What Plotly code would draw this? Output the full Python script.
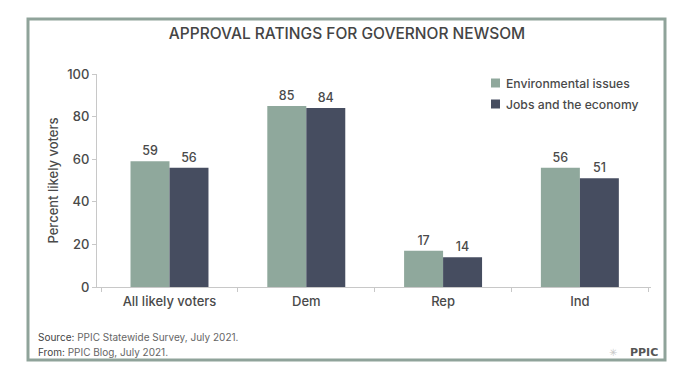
import plotly.graph_objects as go

categories = ["All likely voters", "Dem", "Rep", "Ind"]
env_values = [59, 85, 17, 56]
jobs_values = [56, 84, 14, 51]
series_names = ["Environmental issues", "Jobs and the economy"]
y_ticks = [0, 20, 40, 60, 80, 100]

OFF = 8  # browser body margin
W, H = 688 - OFF, 377 - OFF
FONT = "Inter, 'Open Sans', sans-serif"
TXT = "#4a4a4a"
env_color = "#8fa89c"
jobs_color = "#464d60"
frame_color = "#8fa39a"

x0, x1 = 97 - OFF, 651 - OFF
y_top, y_bot = 74 - OFF, 287 - OFF


def px(x):
    return (x - OFF - x0) / (x1 - x0)


def py(y):
    return (y_bot - (y - OFF)) / (y_bot - y_top)


fig = go.Figure()
for name, vals, col in [(series_names[0], env_values, env_color), (series_names[1], jobs_values, jobs_color)]:
    fig.add_trace(go.Bar(
        x=categories, y=vals, name=name, marker=dict(color=col, line=dict(width=0)),
        text=[str(v) for v in vals], textposition="outside",
        textfont=dict(family=FONT, size=12.5, color=TXT, weight=500), cliponaxis=False,
        showlegend=False,
    ))

fig.update_layout(
    width=W, height=H,
    margin=dict(l=x0, r=W - x1, t=y_top, b=H - y_bot),
    paper_bgcolor="white", plot_bgcolor="white",
    barmode="group", bargap=0.43, bargroupgap=0,
    title=dict(text="APPROVAL RATINGS FOR GOVERNOR NEWSOM", x=px(347), xanchor="center",
               xref="paper", y=1 - (34 - OFF) / H, yanchor="middle",
               font=dict(family=FONT, size=15.5, color="#444444", weight=500)),
    font=dict(family=FONT, color=TXT),
)
fig.update_xaxes(range=[-0.53, 3.52], showline=True, linecolor="#c8c8c8", linewidth=1,
                 ticks="outside", tickson="boundaries", ticklen=4, tickcolor="#c8c8c8",
                 showgrid=False, tickfont=dict(family=FONT, size=13, color=TXT, weight=500),
                 ticklabelstandoff=2)
fig.update_yaxes(range=[0, 100], tickvals=y_ticks, showline=True, linecolor="#c8c8c8",
                 linewidth=1, ticks="outside", ticklen=4, tickcolor="#c8c8c8",
                 showgrid=False, zeroline=False,
                 tickfont=dict(family=FONT, size=13, color=TXT, weight=500),
                 title=dict(text="Percent likely voters",
                            font=dict(family=FONT, size=13, color=TXT, weight=500), standoff=5))

# frame
fig.add_shape(type="rect", xref="paper", yref="paper",
              x0=px(28), x1=px(665), y0=py(360), y1=py(19),
              line=dict(color=frame_color, width=3), fillcolor="rgba(0,0,0,0)", layer="below")

# legend (manual)
for i, (name, col) in enumerate([(series_names[0], env_color), (series_names[1], jobs_color)]):
    yc = 83 + 21 * i
    fig.add_shape(type="rect", xref="paper", yref="paper",
                  x0=px(491), x1=px(500), y0=py(yc + 4.5), y1=py(yc - 4.5),
                  line=dict(width=0), fillcolor=col)
    fig.add_annotation(x=px(504), y=py(yc), xref="paper", yref="paper", xanchor="left",
                       yanchor="middle", showarrow=False, text=name,
                       font=dict(family=FONT, size=12.2, color=TXT, weight=500))

fig.add_annotation(x=px(36), y=py(337), xref="paper", yref="paper", xanchor="left", yanchor="middle",
                   showarrow=False, text="<span style='color:#444'>Source:</span> PPIC Statewide Survey, July 2021.",
                   font=dict(family=FONT, size=10, color="#666666"))
fig.add_annotation(x=px(36), y=py(352), xref="paper", yref="paper", xanchor="left", yanchor="middle",
                   showarrow=False, text="<span style='color:#444'>From:</span> PPIC Blog, July 2021.",
                   font=dict(family=FONT, size=10, color="#666666"))
fig.add_annotation(x=px(613), y=py(352), xref="paper", yref="paper", xanchor="center", yanchor="middle",
                   showarrow=False, text="✳",
                   font=dict(family="'DejaVu Sans', sans-serif", size=10, color="#c8c8c8"))
fig.add_annotation(x=px(660), y=py(352), xref="paper", yref="paper", xanchor="right", yanchor="middle",
                   showarrow=False, text="PPIC",
                   font=dict(family="'DejaVu Sans', sans-serif", size=11, color="#555555", weight=700))

fig.write_html("out.html")
